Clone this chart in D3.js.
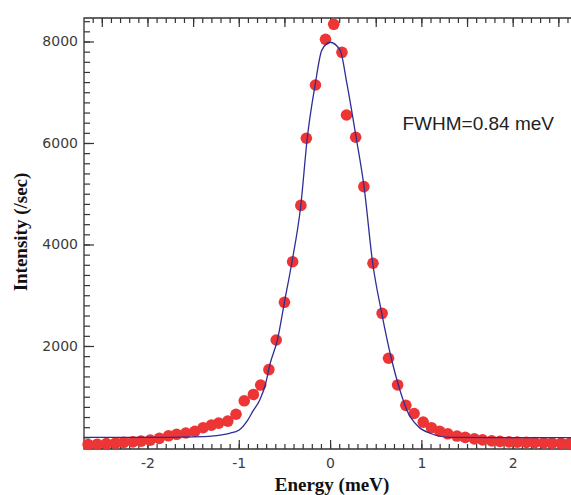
<!DOCTYPE html>
<html>
<head>
<meta charset="utf-8">
<script src="https://cdn.jsdelivr.net/npm/d3@7"></script>
<style>
    body { margin: 0; background: #fff; }
    #chart { width: 571px; height: 495px; }
    .tick text { font-family: "DejaVu Sans", sans-serif; font-size: 14px; fill: #3c3c3c; }
    .tick line { stroke: #333; stroke-width: 1.2; }
    .axis-title { font-family: "Liberation Serif", serif; font-weight: bold; font-size: 19px; fill: #111; }
</style>
</head>
<body>
<div id="chart"></div>
<script>
// measured points
var pointEnergy = [-2.65, -2.55, -2.45, -2.35, -2.26, -2.16, -2.07, -1.97, -1.87, -1.77,
    -1.68, -1.58, -1.48, -1.39, -1.30, -1.22, -1.12, -1.03, -0.94, -0.84,
    -0.76, -0.67, -0.59, -0.50, -0.41, -0.32, -0.26, -0.16, -0.05, 0.04,
    0.13, 0.18, 0.28, 0.37, 0.47, 0.57, 0.64, 0.74, 0.83, 0.92,
    1.02, 1.11, 1.20, 1.29, 1.39, 1.48, 1.58, 1.67, 1.77, 1.86,
    1.96, 2.05, 2.15, 2.24, 2.34, 2.43, 2.53, 2.62];
var pointIntensity = [60, 65, 75, 85, 100, 110, 125, 145, 180, 230,
    260, 285, 320, 390, 440, 480, 520, 655, 920, 1045,
    1230, 1535, 2118, 2861, 3661, 4770, 6093, 7143, 8043, 8339,
    7787, 6552, 6113, 5140, 3630, 2644, 1758, 1232, 830, 670,
    500, 390, 320, 270, 225, 200, 170, 150, 130, 120,
    110, 105, 100, 95, 90, 85, 80, 75];

// fitted curve
var fitEnergy = [-2.7, -2.0, -1.5, -1.3, -1.1, -1.0, -0.9, -0.85, -0.77, -0.71, -0.657, -0.577, -0.50, -0.42, -0.32, -0.25, -0.164, -0.09, 0,
    0.11, 0.183, 0.285, 0.372, 0.467, 0.566, 0.675, 0.748, 0.80, 0.84, 0.968, 1.095, 1.31, 1.8, 2.7];
var fitIntensity = [200, 200, 210, 225, 280, 340, 545, 700, 936, 1232, 1650, 2118, 2861, 3630, 4778, 6093, 7143, 7830, 7985,
    7830, 7183, 6113, 5140, 3630, 2644, 1724, 1232, 936, 739, 410, 280, 201, 195, 195];

// ticks
var xTickValues = [-2, -1, 0, 1, 2];
var xTickLabels = ["-2", "-1", "0", "1", "2"];
var yTickValues = [2000, 4000, 6000, 8000];
var yTickLabels = ["2000", "4000", "6000", "8000"];

var chartWidth = 571;
var chartHeight = 495;

var svg = d3.select("#chart")
    .append("svg")
        .attr("width", chartWidth)
        .attr("height", chartHeight)
;

var x = d3.scaleLinear()
    .domain([-2.695, 2.85])
    .range([84, 590.3])
;
var y = d3.scaleLinear()
    .domain([-30, 8463])
    .range([449, 18])
;

// left axis
svg.append("g")
    .attr("transform", "translate(84,0)")
    .call(d3.axisLeft(y).tickValues(d3.range(200, 8401, 200)).tickSize(-6).tickFormat(""))
    .call(function(g) { g.select(".domain").remove(); })
;
svg.append("g")
    .attr("transform", "translate(84,0)")
    .call(d3.axisLeft(y).tickValues(yTickValues).tickSize(-10).tickPadding(6)
        .tickFormat(function(d, i) { return yTickLabels[i]; }))
    .call(function(g) { g.select(".domain").remove(); })
;

// bottom axis
svg.append("g")
    .attr("transform", "translate(0,449)")
    .call(d3.axisBottom(x).tickValues(d3.range(-26, 27).map(function(d) { return d / 10; })).tickSize(-5).tickFormat(""))
    .call(function(g) { g.select(".domain").remove(); })
;
svg.append("g")
    .attr("transform", "translate(0,449)")
    .call(d3.axisBottom(x).tickValues(xTickValues).tickSize(-9).tickPadding(9)
        .tickFormat(function(d, i) { return xTickLabels[i]; }))
    .call(function(g) { g.select(".domain").remove(); })
;

// top axis
svg.append("g")
    .attr("transform", "translate(0,18)")
    .call(d3.axisTop(x).tickValues(d3.range(-26, 27).map(function(d) { return d / 10; })).tickSize(-5).tickFormat(""))
    .call(function(g) { g.select(".domain").remove(); })
;
svg.append("g")
    .attr("transform", "translate(0,18)")
    .call(d3.axisTop(x).tickValues(d3.range(-5, 6).map(function(d) { return d / 2; })).tickSize(-9).tickFormat(""))
    .call(function(g) { g.select(".domain").remove(); })
;

// frame
svg.append("path")
    .attr("d", "M" + chartWidth + ",18H84V449H" + chartWidth)
    .attr("fill", "none")
    .attr("stroke", "#333")
    .attr("stroke-width", 1.3)
;

// data points
svg.append("g")
    .selectAll("circle")
    .data(pointEnergy)
    .enter().append("circle")
        .attr("cx", function(d) { return x(d); })
        .attr("cy", function(d, i) { return y(pointIntensity[i]); })
        .attr("r", 5.8)
        .style("fill", "#ee3535")
;

// fit line
var line = d3.line()
    .x(function(d) { return x(d); })
    .y(function(d, i) { return y(fitIntensity[i]); })
    .curve(d3.curveMonotoneX)
;
svg.append("path")
    .attr("d", line(fitEnergy))
    .attr("fill", "none")
    .attr("stroke", "#2e2e96")
    .attr("stroke-width", 1.3)
;

// labels
svg.append("text")
    .attr("x", 402.5)
    .attr("y", 129.5)
    .style("font-family", "'Liberation Sans', Arial, sans-serif")
    .style("font-size", "19px")
    .style("fill", "#222")
    .text("FWHM=0.84 meV")
;
svg.append("text")
    .attr("class", "axis-title")
    .attr("x", 332)
    .attr("y", 491)
    .style("text-anchor", "middle")
    .text("Energy (meV)")
;
svg.append("text")
    .attr("class", "axis-title")
    .attr("transform", "translate(26.5,232) rotate(-90)")
    .style("text-anchor", "middle")
    .text("Intensity (/sec)")
;
</script>
</body>
</html>
